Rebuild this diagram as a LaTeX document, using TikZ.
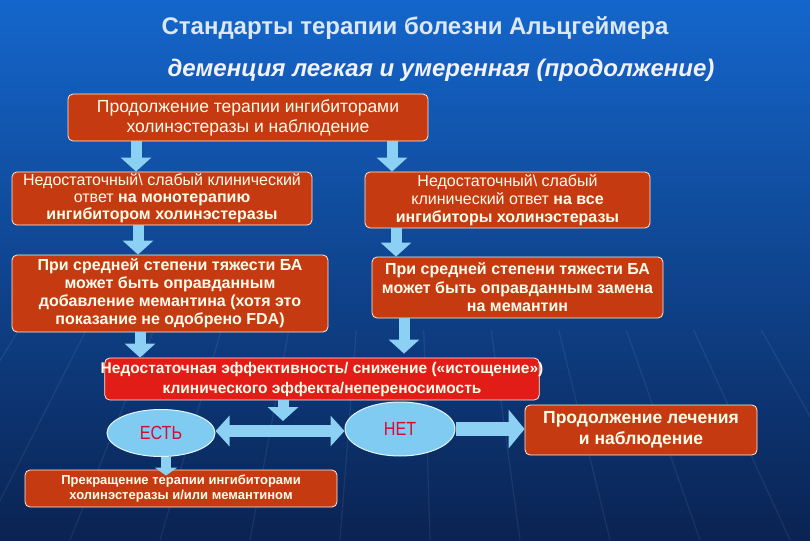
\documentclass[tikz,border=0pt]{standalone}
\usepackage{fontspec}
\setmainfont{Liberation Sans}
\usetikzlibrary{positioning, shapes.geometric, arrows.meta}

\definecolor{bgtop}{HTML}{1466CC}
\definecolor{bgmid}{HTML}{0C4596}
\definecolor{bgbot}{HTML}{0A2352}
\definecolor{boxred}{HTML}{C63A12}
\definecolor{brightred}{HTML}{E21C16}
\definecolor{oval}{HTML}{80CBF2}
\definecolor{ovaltext}{HTML}{D01030}
\definecolor{arrowblue}{HTML}{8CD0F4}
\definecolor{titletext}{HTML}{DCE8F6}

\begin{document}
\begin{tikzpicture}[x=1pt, y=-1pt,
  box/.style={draw=white!85!orange, line width=0.8pt, fill=boxred, rounded corners=5pt,
    text=white!92!yellow, align=center, inner sep=2pt},
  blk/.style={arrowblue, line width=11pt, -{Triangle[width=30pt,length=14pt]}},
  wideblk/.style={arrowblue, line width=14pt, -{Triangle[width=38pt,length=16pt]}},
  ovalnode/.style={ellipse, fill=oval, draw=white!80!oval, line width=1pt, inner sep=0pt,
    text=ovaltext, font=\fontsize{19}{20}\selectfont}]
\useasboundingbox (0,0) rectangle (810,540);
% background
\shade[top color=bgtop, middle color=bgmid, bottom color=bgbot] (0,0) rectangle (810,540);
\foreach \x in {-200,-110,...,1050}
  \draw[white, opacity=0.07, line width=1.2pt] (405+\x*0.75-303.75,330) -- (\x,540);

% titles
\node[text=titletext, font=\fontsize{24}{27}\selectfont\bfseries] (title) at (415,28)
  {Стандарты терапии болезни Альцгеймера};
\node[text=white!95!blue, font=\fontsize{24}{28}\selectfont\bfseries\itshape] (subtitle) at (441,70)
  {деменция легкая и умеренная (продолжение)};

% boxes
\node[box, minimum width=360, minimum height=47, font=\fontsize{17.5}{20}\selectfont] (start) at (248,117.5)
  {Продолжение терапии ингибиторами\\холинэстеразы и наблюдение};
\node[box, minimum width=300, minimum height=51, font=\fontsize{16}{17}\selectfont, inner xsep=0pt] (monoL) at (162,198.5)
  {Недостаточный\textbackslash{} слабый клинический\\ответ \textbf{на монотерапию}\\\textbf{ингибитором холинэстеразы}};
\node[box, minimum width=285, minimum height=56, font=\fontsize{16}{18}\selectfont] (allR) at (507.5,200)
  {Недостаточный\textbackslash{} слабый\\клинический ответ \textbf{на все}\\\textbf{ингибиторы холинэстеразы}};
\node[box, minimum width=316, minimum height=77, font=\fontsize{16}{18}\selectfont\bfseries] (addL) at (170,293.5)
  {При средней степени тяжести БА\\может быть оправданным\\добавление мемантина (хотя это\\показание не одобрено FDA)};
\node[box, minimum width=291, minimum height=61, font=\fontsize{16}{18.5}\selectfont\bfseries] (swapR) at (517.5,287.5)
  {При средней степени тяжести БА\\может быть оправданным замена\\на мемантин};
\node[box, fill=brightred, inner xsep=-4pt, minimum height=42, font=\fontsize{15.5}{20}\selectfont\bfseries] (fail) at (322,379)
  {Недостаточная эффективность/ снижение («истощение»)\\клинического эффекта/непереносимость};
\node[ovalnode, minimum width=108, minimum height=47] (yes) at (161,433) {\scalebox{0.85}[1]{ЕСТЬ}};
\node[ovalnode, minimum width=110, minimum height=54] (no) at (400,429) {\scalebox{0.85}[1]{НЕТ}};
\node[box, minimum width=232, minimum height=50, font=\fontsize{17.5}{21}\selectfont\bfseries] (keep) at (641,430)
  {Продолжение лечения\\и наблюдение};
\node[box, minimum width=312, minimum height=37, font=\fontsize{13}{15.5}\selectfont\bfseries] (stop) at (181,488.5)
  {Прекращение терапии ингибиторами\\холинэстеразы и/или мемантином};

% arrows
\coordinate (join) at (283,421);
\draw[blk] (start.south -| 136,0) -- (monoL.north -| 136,0);
\draw[blk] (start.south -| 392,0) -- (allR.north -| 392,0);
\draw[blk] (monoL.south -| 138,0) -- (addL.north -| 138,0);
\draw[blk] (allR.south -| 396,0) -- (swapR.north -| 396,0);
\draw[blk] (addL.south -| 140,0) -- (fail.north -| 140,0);
\draw[blk] (swapR.south -| 404,0) -- ([yshift=4pt]fail.north -| 404,0);
\draw[{Triangle[width=30pt,length=14pt]}-{Triangle[width=30pt,length=14pt]}, arrowblue, line width=12pt]
  ([yshift=2pt]yes.east) -- ([yshift=2pt]yes.east -| no.west);
\draw[blk] (fail.south -| join) -- (join);
\draw[blk, line width=10pt, -{Triangle[width=22pt,length=8pt]}] (yes.south -| 166,0) -- ([yshift=-6pt]stop.north -| 166,0);
\draw[wideblk] (no.east) -- (no.east -| keep.west);
\end{tikzpicture}
\end{document}
